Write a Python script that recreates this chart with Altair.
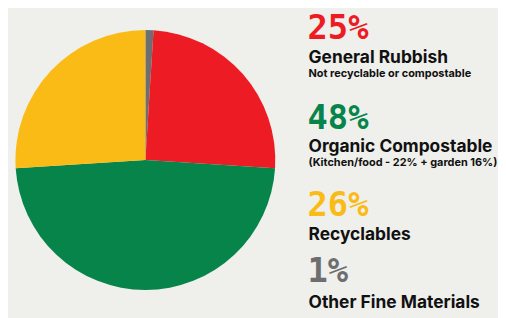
import altair as alt
import pandas as pd

# ---- data ----
categories = ["Other Fine Materials", "General Rubbish", "Organic Compostable", "Recyclables"]
values = [1, 25, 48, 26]
pct_labels = ["1%", "25%", "48%", "26%"]
subtitles = ["", "Not recyclable or compostable", "(Kitchen/food - 22% + garden 16%)", ""]
colors = ["#6D6E70", "#ED1C24", "#06844A", "#FBBB17"]
slice_order = [0, 1, 2, 3]
legend_order = ["General Rubbish", "Organic Compostable", "Recyclables", "Other Fine Materials"]

df = pd.DataFrame({
    "category": categories,
    "value": values,
    "pct": pct_labels,
    "sub": subtitles,
    "ord": slice_order,
})

BG = "#EFEFEB"
color_scale = alt.Scale(domain=categories, range=colors)

base = alt.Chart(df)

pie = base.mark_arc(outerRadius=131).encode(
    theta=alt.Theta("value:Q", stack=True),
    order=alt.Order("ord:Q"),
    color=alt.Color("category:N", scale=color_scale, legend=None),
    x=alt.value(138.5),
    y=alt.value(152),
)

# baseline (chart coords) of each group's percentage, and title offset
group_y = [30, 120.3, 208, 275]
title_dy = [24, 24, 24.5, 26]
TEXT_X = 302
layers = [pie]
for i, cat in enumerate(legend_order):
    gy = group_y[i]
    sel = base.transform_filter(alt.datum.category == cat)
    layers.append(
        sel.mark_text(align="left", baseline="alphabetic", font="DejaVu Sans Mono",
                      fontWeight="bold", fontSize=34).encode(
            text="pct:N",
            color=alt.Color("category:N", scale=color_scale, legend=None),
            x=alt.value(TEXT_X),
            y=alt.value(gy),
        )
    )
    layers.append(
        sel.mark_text(align="left", baseline="alphabetic", font="Inter",
                      fontWeight="bold", fontSize=17.5, color="#111111").encode(
            text="category:N",
            x=alt.value(TEXT_X + 1),
            y=alt.value(gy + title_dy[i]),
        )
    )
    layers.append(
        sel.mark_text(align="left", baseline="alphabetic", font="Inter",
                      fontWeight="bold", fontSize=11, color="#111111").encode(
            text="sub:N",
            x=alt.value(TEXT_X + 1),
            y=alt.value(gy + 38),
        )
    )

chart = alt.layer(*layers).properties(
    width=490, height=302, padding=0, background=BG
).configure_view(stroke=None)

chart.save("out.html", embed_options={"renderer": "svg", "actions": False})
